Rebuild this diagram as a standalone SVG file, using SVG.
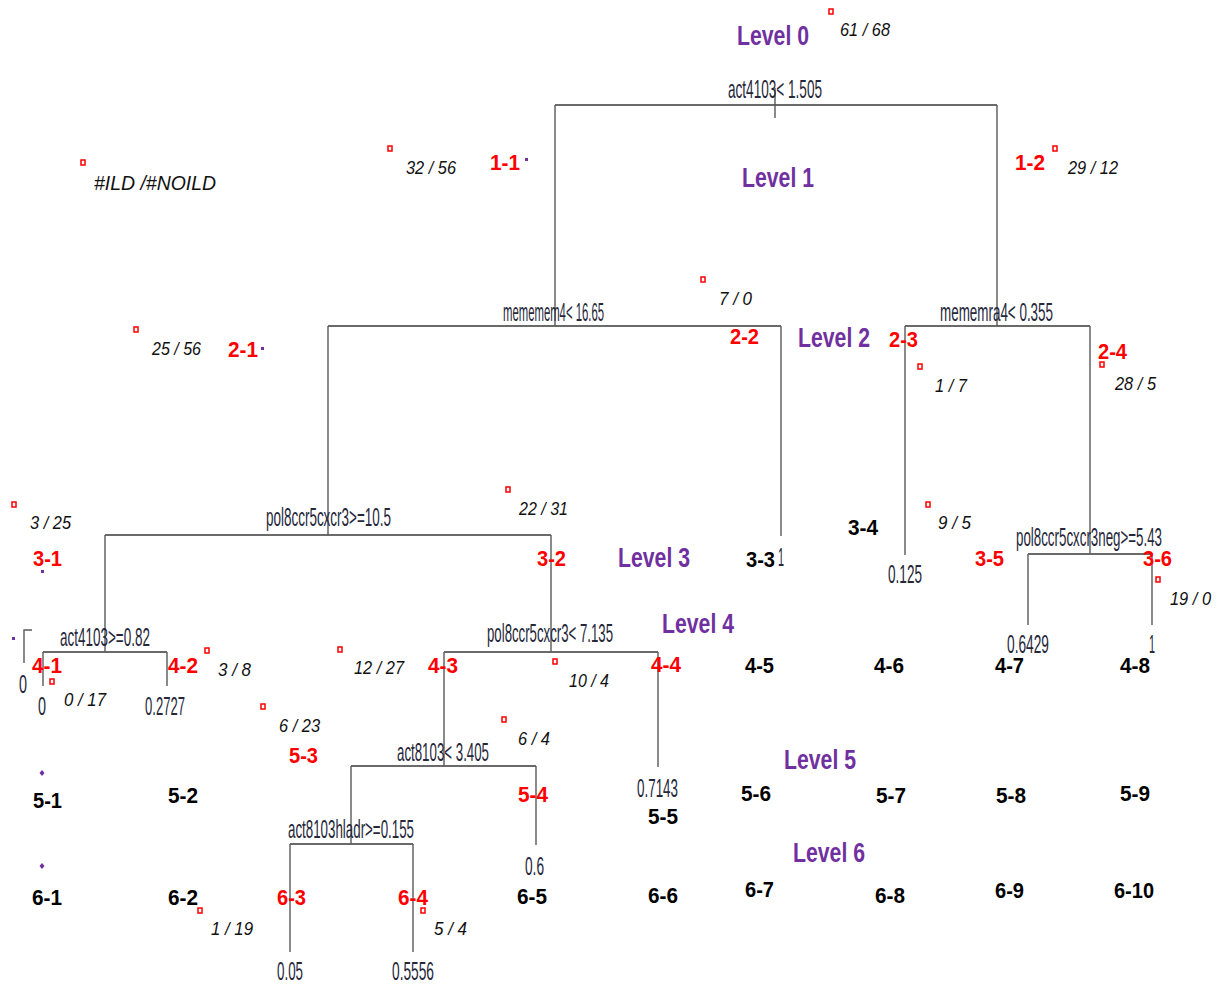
<svg xmlns="http://www.w3.org/2000/svg" width="1225" height="987" viewBox="0 0 1225 987">
<style>
.bg{fill:#fff}
.h{stroke:#3a3a3a;stroke-width:1.6;fill:none}
.v{stroke:#5a5a5a;stroke-width:1.4;fill:none}
.sp{font-family:"Liberation Sans",Arial,sans-serif;font-size:25px;fill:#26283a}
.ct{font-family:"Liberation Sans",Arial,sans-serif;font-style:italic;font-size:18px;fill:#111}
.rd{font-family:"Liberation Sans",Arial,sans-serif;font-weight:bold;font-size:22px;fill:#ff0000}
.bk{font-family:"Liberation Sans",Arial,sans-serif;font-weight:bold;font-size:22px;fill:#000}
.lv{font-family:"Liberation Sans",Arial,sans-serif;font-weight:bold;font-size:28px;fill:#7030a0}
.sq{fill:#fff;stroke:#ff0000;stroke-width:1.5}
.pd{fill:#7030a0}
</style>
<rect class="bg" x="0" y="0" width="1225" height="987"/>
<g id="connectors">
<path class="h" d="M555 105H997M328 326H781M905 326H1090M105 535H551M1028 554H1152M43 652H167M444 652H658M351 766H536M290 844H413"/>
<path class="v" d="M775 88V118M555 105V326M997 105V326M328 326V535M781 326V536M905 326V555M1090 326V554M105 535V652M551 535V652M1028 554V625M1152 554V625M43 652V686M167 652V686M444 652V766M658 652V767M351 766V844M536 766V845M290 844V952M413 844V952"/>
<path class="v" d="M24 663V630H32"/>
</g>
<g id="splits">
<g id="n-root"><text class="sp" x="728" y="98" textLength="94" lengthAdjust="spacingAndGlyphs">act4103&lt; 1.505</text></g>
<g id="n-1-1"><text class="sp" x="503" y="321" textLength="101" lengthAdjust="spacingAndGlyphs">mememem4&lt; 16.65</text></g>
<g id="n-1-2"><text class="sp" x="940" y="321" textLength="113" lengthAdjust="spacingAndGlyphs">mememra4&lt; 0.355</text></g>
<g id="n-2-1"><text class="sp" x="266" y="526" textLength="125" lengthAdjust="spacingAndGlyphs">pol8ccr5cxcr3&gt;=10.5</text></g>
<g id="n-2-4"><text class="sp" x="1016" y="546" textLength="146" lengthAdjust="spacingAndGlyphs">pol8ccr5cxcr3neg&gt;=5.43</text></g>
<g id="n-3-1"><text class="sp" x="60" y="646" textLength="90" lengthAdjust="spacingAndGlyphs">act4103&gt;=0.82</text></g>
<g id="n-3-2"><text class="sp" x="487" y="642" textLength="126" lengthAdjust="spacingAndGlyphs">pol8ccr5cxcr3&lt; 7.135</text></g>
<g id="n-4-3"><text class="sp" x="397" y="761" textLength="92" lengthAdjust="spacingAndGlyphs">act8103&lt; 3.405</text></g>
<g id="n-5-3"><text class="sp" x="288" y="838" textLength="126" lengthAdjust="spacingAndGlyphs">act8103hladr&gt;=0.155</text></g>
</g>
<g id="leaves">
<g id="leaf-2-2"><text class="sp" x="778" y="566" textLength="6" lengthAdjust="spacingAndGlyphs">1</text></g>
<g id="leaf-2-3"><text class="sp" x="888" y="583" textLength="34" lengthAdjust="spacingAndGlyphs">0.125</text></g>
<g id="leaf-3-5"><text class="sp" x="1007" y="653" textLength="42" lengthAdjust="spacingAndGlyphs">0.6429</text></g>
<g id="leaf-3-6"><text class="sp" x="1149" y="653" textLength="6" lengthAdjust="spacingAndGlyphs">1</text></g>
<g id="leaf-x"><text class="sp" x="19" y="693" textLength="8" lengthAdjust="spacingAndGlyphs">0</text></g>
<g id="leaf-4-1"><text class="sp" x="38" y="715" textLength="8" lengthAdjust="spacingAndGlyphs">0</text></g>
<g id="leaf-4-2"><text class="sp" x="145" y="715" textLength="40" lengthAdjust="spacingAndGlyphs">0.2727</text></g>
<g id="leaf-4-4"><text class="sp" x="637" y="797" textLength="41" lengthAdjust="spacingAndGlyphs">0.7143</text></g>
<g id="leaf-5-4"><text class="sp" x="525" y="875" textLength="19" lengthAdjust="spacingAndGlyphs">0.6</text></g>
<g id="leaf-6-3"><text class="sp" x="277" y="980" textLength="26" lengthAdjust="spacingAndGlyphs">0.05</text></g>
<g id="leaf-6-4"><text class="sp" x="392" y="980" textLength="42" lengthAdjust="spacingAndGlyphs">0.5556</text></g>
</g>
<g id="counts">
<rect class="sq" x="829" y="9" width="4" height="5"/><rect class="sq" x="81" y="160" width="4" height="5"/><rect class="sq" x="388" y="146" width="4" height="5"/><rect class="sq" x="1053" y="146" width="4" height="5"/><rect class="sq" x="701" y="277" width="4" height="5"/><rect class="sq" x="134" y="327" width="4" height="5"/><rect class="sq" x="918" y="364" width="4" height="5"/><rect class="sq" x="1100" y="362" width="4" height="5"/><rect class="sq" x="12" y="502" width="4" height="5"/><rect class="sq" x="506" y="487" width="4" height="5"/><rect class="sq" x="926" y="502" width="4" height="5"/><rect class="sq" x="1156" y="577" width="4" height="5"/><rect class="sq" x="50" y="679" width="4" height="5"/><rect class="sq" x="205" y="648" width="4" height="5"/><rect class="sq" x="338" y="647" width="4" height="5"/><rect class="sq" x="553" y="659" width="4" height="5"/><rect class="sq" x="261" y="704" width="4" height="5"/><rect class="sq" x="502" y="717" width="4" height="5"/><rect class="sq" x="198" y="908" width="4" height="5"/><rect class="sq" x="421" y="908" width="4" height="5"/>
<text class="ct" x="94" y="190" style="font-size:20px" textLength="122" lengthAdjust="spacingAndGlyphs">#ILD /#NOILD</text>
<text class="ct" x="840" y="36" textLength="50" lengthAdjust="spacingAndGlyphs">61 / 68</text>
<text class="ct" x="406" y="174" textLength="50" lengthAdjust="spacingAndGlyphs">32 / 56</text>
<text class="ct" x="1068" y="174" textLength="50" lengthAdjust="spacingAndGlyphs">29 / 12</text>
<text class="ct" x="719" y="305" textLength="33" lengthAdjust="spacingAndGlyphs">7 / 0</text>
<text class="ct" x="152" y="355" textLength="49" lengthAdjust="spacingAndGlyphs">25 / 56</text>
<text class="ct" x="935" y="392" textLength="32" lengthAdjust="spacingAndGlyphs">1 / 7</text>
<text class="ct" x="1115" y="390" textLength="41" lengthAdjust="spacingAndGlyphs">28 / 5</text>
<text class="ct" x="30" y="529" textLength="41" lengthAdjust="spacingAndGlyphs">3 / 25</text>
<text class="ct" x="519" y="515" textLength="49" lengthAdjust="spacingAndGlyphs">22 / 31</text>
<text class="ct" x="938" y="529" textLength="33" lengthAdjust="spacingAndGlyphs">9 / 5</text>
<text class="ct" x="1170" y="605" textLength="41" lengthAdjust="spacingAndGlyphs">19 / 0</text>
<text class="ct" x="218" y="676" textLength="33" lengthAdjust="spacingAndGlyphs">3 / 8</text>
<text class="ct" x="354" y="674" textLength="50" lengthAdjust="spacingAndGlyphs">12 / 27</text>
<text class="ct" x="569" y="687" textLength="40" lengthAdjust="spacingAndGlyphs">10 / 4</text>
<text class="ct" x="64" y="706" textLength="42" lengthAdjust="spacingAndGlyphs">0 / 17</text>
<text class="ct" x="279" y="732" textLength="41" lengthAdjust="spacingAndGlyphs">6 / 23</text>
<text class="ct" x="518" y="745" textLength="32" lengthAdjust="spacingAndGlyphs">6 / 4</text>
<text class="ct" x="211" y="935" textLength="42" lengthAdjust="spacingAndGlyphs">1 / 19</text>
<text class="ct" x="434" y="935" textLength="33" lengthAdjust="spacingAndGlyphs">5 / 4</text>
</g>
<g id="marks">
<rect class="pd" x="525" y="158" width="3" height="3"/><rect class="pd" x="261" y="347" width="3" height="3"/><rect class="pd" x="41" y="570" width="3" height="3"/><rect class="pd" x="12" y="637" width="3" height="3"/>
<path class="pd" d="M42 770L44.5 773L42 776L39.5 773Z"/><path class="pd" d="M42 863L44.5 866L42 869L39.5 866Z"/>
</g>
<g id="levels">
<text class="lv" x="737" y="45" textLength="72" lengthAdjust="spacingAndGlyphs">Level 0</text>
<text class="lv" x="742" y="187" textLength="72" lengthAdjust="spacingAndGlyphs">Level 1</text>
<text class="lv" x="798" y="347" textLength="72" lengthAdjust="spacingAndGlyphs">Level 2</text>
<text class="lv" x="618" y="567" textLength="72" lengthAdjust="spacingAndGlyphs">Level 3</text>
<text class="lv" x="662" y="633" textLength="72" lengthAdjust="spacingAndGlyphs">Level 4</text>
<text class="lv" x="784" y="769" textLength="72" lengthAdjust="spacingAndGlyphs">Level 5</text>
<text class="lv" x="793" y="862" textLength="72" lengthAdjust="spacingAndGlyphs">Level 6</text>
</g>
<g id="ids-red">
<text class="rd" x="490" y="170" textLength="30" lengthAdjust="spacingAndGlyphs">1-1</text>
<text class="rd" x="1015" y="170" textLength="30" lengthAdjust="spacingAndGlyphs">1-2</text>
<text class="rd" x="228" y="357" textLength="30" lengthAdjust="spacingAndGlyphs">2-1</text>
<text class="rd" x="730" y="344" textLength="29" lengthAdjust="spacingAndGlyphs">2-2</text>
<text class="rd" x="889" y="347" textLength="29" lengthAdjust="spacingAndGlyphs">2-3</text>
<text class="rd" x="1098" y="359" textLength="29" lengthAdjust="spacingAndGlyphs">2-4</text>
<text class="rd" x="33" y="566" textLength="29" lengthAdjust="spacingAndGlyphs">3-1</text>
<text class="rd" x="537" y="566" textLength="29" lengthAdjust="spacingAndGlyphs">3-2</text>
<text class="rd" x="975" y="566" textLength="29" lengthAdjust="spacingAndGlyphs">3-5</text>
<text class="rd" x="1143" y="566" textLength="29" lengthAdjust="spacingAndGlyphs">3-6</text>
<text class="rd" x="32" y="673" textLength="30" lengthAdjust="spacingAndGlyphs">4-1</text>
<text class="rd" x="168" y="673" textLength="30" lengthAdjust="spacingAndGlyphs">4-2</text>
<text class="rd" x="428" y="673" textLength="30" lengthAdjust="spacingAndGlyphs">4-3</text>
<text class="rd" x="651" y="672" textLength="30" lengthAdjust="spacingAndGlyphs">4-4</text>
<text class="rd" x="289" y="763" textLength="29" lengthAdjust="spacingAndGlyphs">5-3</text>
<text class="rd" x="518" y="802" textLength="30" lengthAdjust="spacingAndGlyphs">5-4</text>
<text class="rd" x="277" y="905" textLength="29" lengthAdjust="spacingAndGlyphs">6-3</text>
<text class="rd" x="398" y="905" textLength="30" lengthAdjust="spacingAndGlyphs">6-4</text>
</g>
<g id="ids-black">
<text class="bk" x="746" y="567" textLength="29" lengthAdjust="spacingAndGlyphs">3-3</text>
<text class="bk" x="848" y="535" textLength="30" lengthAdjust="spacingAndGlyphs">3-4</text>
<text class="bk" x="745" y="673" textLength="29" lengthAdjust="spacingAndGlyphs">4-5</text>
<text class="bk" x="874" y="673" textLength="30" lengthAdjust="spacingAndGlyphs">4-6</text>
<text class="bk" x="995" y="673" textLength="29" lengthAdjust="spacingAndGlyphs">4-7</text>
<text class="bk" x="1120" y="673" textLength="30" lengthAdjust="spacingAndGlyphs">4-8</text>
<text class="bk" x="33" y="808" textLength="29" lengthAdjust="spacingAndGlyphs">5-1</text>
<text class="bk" x="168" y="803" textLength="30" lengthAdjust="spacingAndGlyphs">5-2</text>
<text class="bk" x="648" y="824" textLength="30" lengthAdjust="spacingAndGlyphs">5-5</text>
<text class="bk" x="741" y="801" textLength="30" lengthAdjust="spacingAndGlyphs">5-6</text>
<text class="bk" x="876" y="803" textLength="30" lengthAdjust="spacingAndGlyphs">5-7</text>
<text class="bk" x="996" y="803" textLength="30" lengthAdjust="spacingAndGlyphs">5-8</text>
<text class="bk" x="1120" y="801" textLength="30" lengthAdjust="spacingAndGlyphs">5-9</text>
<text class="bk" x="32" y="905" textLength="30" lengthAdjust="spacingAndGlyphs">6-1</text>
<text class="bk" x="168" y="905" textLength="30" lengthAdjust="spacingAndGlyphs">6-2</text>
<text class="bk" x="517" y="904" textLength="30" lengthAdjust="spacingAndGlyphs">6-5</text>
<text class="bk" x="648" y="903" textLength="30" lengthAdjust="spacingAndGlyphs">6-6</text>
<text class="bk" x="745" y="897" textLength="29" lengthAdjust="spacingAndGlyphs">6-7</text>
<text class="bk" x="875" y="903" textLength="30" lengthAdjust="spacingAndGlyphs">6-8</text>
<text class="bk" x="995" y="898" textLength="29" lengthAdjust="spacingAndGlyphs">6-9</text>
<text class="bk" x="1114" y="898" textLength="40" lengthAdjust="spacingAndGlyphs">6-10</text>
</g>
</svg>
